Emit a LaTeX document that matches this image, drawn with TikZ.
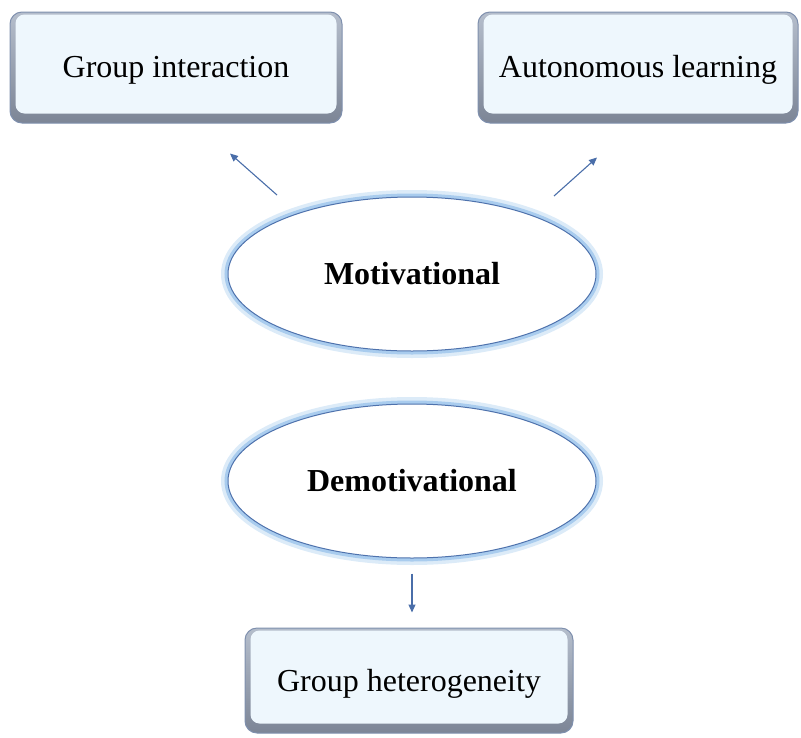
\documentclass[tikz,border=0pt]{standalone}
\usepackage{fontspec}
\setmainfont{Liberation Serif}
\usetikzlibrary{shapes.geometric,arrows.meta,calc}
\definecolor{boxfill}{HTML}{EEF7FD}
\definecolor{boxedge}{HTML}{7F90AE}
\definecolor{bevel}{HTML}{7C8596}
\definecolor{bevellight}{HTML}{B5BECC}
\definecolor{arrowc}{HTML}{4A6EA9}
\definecolor{ellc}{HTML}{4E72AD}
\definecolor{glowc}{HTML}{A9CCEE}
\definecolor{glowsoft}{HTML}{DCEBF8}
\tikzset{
  bevelbox/.style={rectangle, rounded corners=12pt, draw=boxedge, line width=1pt,
    top color=bevellight, bottom color=bevel, inner sep=0pt},
  boxtext/.style={font=\fontsize{32}{38}\selectfont},
  oval/.style={ellipse, draw=ellc, line width=1pt, fill=white, inner sep=0pt,
    minimum width=368pt, minimum height=154pt,
    preaction={draw=glowsoft, line width=14pt},
    preaction={draw=glowc, line width=7pt},
    font=\fontsize{32}{38}\selectfont\bfseries},
  arr/.style={draw=arrowc, line width=1.1pt, -{Triangle[length=8pt,width=7pt]}}
}
\newcommand{\innerface}[1]{%
  \fill[boxfill, rounded corners=9pt] ([shift={(6,3)}]#1.north west) rectangle ([shift={(-6,-10)}]#1.south east);}
\begin{document}
\begin{tikzpicture}[x=1pt,y=-1pt]
\useasboundingbox (0,0) rectangle (801,737);
% boxes
\node[bevelbox, minimum width=332pt, minimum height=111pt] (g) at (176,67.5) {};
\innerface{g}
\node[boxtext] (gt) at (176,70) {Group interaction};
\node[bevelbox, minimum width=320pt, minimum height=111pt] (a) at (638,67.5) {};
\innerface{a}
\node[boxtext] (at) at (638,70) {Autonomous learning};
\node[bevelbox, minimum width=328pt, minimum height=105pt] (h) at (409,680.5) {};
\innerface{h}
\node[boxtext] (ht) at (409,684) {Group heterogeneity};
% ellipses
\node[oval] (m) at (412,274) {Motivational};
\node[oval] (d) at (412,481) {Demotivational};
% arrows
\draw[arr] ([shift={(-135,-79)}]m.center) -- ([shift={(54,30)}]g.south);
\draw[arr] ([shift={(142,-78)}]m.center) -- ([shift={(-41,34)}]a.south);
\draw[arr] ([shift={(0,15)}]d.south) -- ([shift={(3,-15)}]h.north);
\end{tikzpicture}
\end{document}
